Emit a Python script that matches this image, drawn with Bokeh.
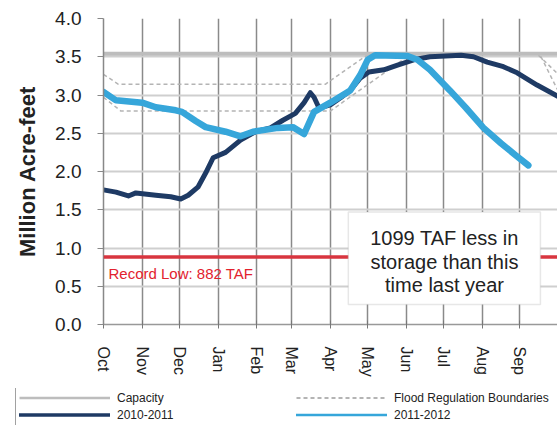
from bokeh.plotting import figure
from bokeh.layouts import column, row
from bokeh.models import (Range1d, FixedTicker, PrintfTickFormatter, Legend, LegendItem,
                          BoxAnnotation, Label, Span)
from bokeh.embed import file_html
from bokeh.resources import INLINE

FONT = "Liberation Sans"

# ---------------- data ----------------
months = ["Oct", "Nov", "Dec", "Jan", "Feb", "Mar", "Apr", "May", "Jun", "Jul", "Aug", "Sep"]
month_start_day = [0, 31, 61, 92, 123, 151, 182, 212, 243, 273, 304, 334]
y_ticks = [0.0, 0.5, 1.0, 1.5, 2.0, 2.5, 3.0, 3.5, 4.0]

capacity = 3.538          # million acre-feet
record_low = 0.882        # million acre-feet (882 TAF)
water_year_days = [0, 365]

day_2010 = [0, 10, 20, 26, 42, 54, 62, 68, 76, 82, 88, 98, 110, 122, 134, 144, 154, 161,
            166, 169, 173, 182, 190, 198, 206, 213, 225, 236, 249, 262, 287, 297, 308,
            321, 332, 348, 365]
storage_2010 = [1.76, 1.73, 1.68, 1.72, 1.69, 1.67, 1.64, 1.69, 1.80, 1.98, 2.18, 2.25,
                2.41, 2.52, 2.57, 2.67, 2.76, 2.90, 3.03, 2.97, 2.83, 2.87, 2.96, 3.06,
                3.22, 3.30, 3.33, 3.39, 3.46, 3.50, 3.52, 3.50, 3.43, 3.37, 3.29, 3.13,
                2.98]

day_2011 = [0, 10, 31, 42, 58, 63, 74, 82, 98, 110, 120, 140, 152, 161, 169, 182, 198,
            206, 212, 218, 244, 252, 262, 278, 291, 305, 319, 331, 341]
storage_2011 = [3.04, 2.93, 2.90, 2.84, 2.80, 2.78, 2.66, 2.58, 2.52, 2.46, 2.52, 2.57,
                2.58, 2.49, 2.78, 2.90, 3.06, 3.26, 3.46, 3.52, 3.51, 3.46, 3.33, 3.06,
                2.83, 2.57, 2.37, 2.21, 2.08]

flood_upper_day = [0, 12, 178, 213, 348, 365]
flood_upper = [3.27, 3.14, 3.14, 3.538, 3.538, 3.27]
flood_lower_day = [0, 14, 182, 247, 350, 365]
flood_lower = [2.97, 2.79, 2.79, 3.538, 3.538, 3.05]

series_labels = ["Capacity", "Flood Regulation Boundaries", "2010-2011", "2011-2012"]

STYLE = {
    "Capacity": dict(line_color="#bdbdbd", line_width=4),
    "Flood Regulation Boundaries": dict(line_color="#b4b4b4", line_width=1.5, line_dash="4 3"),
    "2010-2011": dict(line_color="#1e3a64", line_width=5, line_join="round", line_cap="round"),
    "2011-2012": dict(line_color="#36a6da", line_width=6.5, line_join="round", line_cap="round"),
}
LEGEND_WIDTH = {"Capacity": 2.5, "Flood Regulation Boundaries": 1.8,
                "2010-2011": 3.5, "2011-2012": 2.5}

# ---------------- main figure ----------------
p = figure(width=557, height=388, output_backend="svg", toolbar_location=None,
           x_range=Range1d(0, 364.4), y_range=Range1d(0, 4),
           min_border_left=103, min_border_right=0, min_border_top=18,
           min_border_bottom=64)
p.outline_line_color = None
p.background_fill_color = "white"
p.border_fill_color = "white"

p.xgrid.grid_line_color = "#8a8a8a"
p.xgrid.grid_line_width = 1.5
p.ygrid.grid_line_color = "#cfcfcf"
p.ygrid.grid_line_width = 2

p.xaxis.ticker = FixedTicker(ticks=month_start_day)
p.xaxis.major_label_overrides = {d: m for d, m in zip(month_start_day, months)}
p.xaxis.major_label_orientation = "vertical"
p.xaxis.major_label_text_font = FONT
p.xaxis.major_label_text_font_size = "16px"
p.xaxis.major_label_text_color = "#222222"
p.xaxis.major_label_standoff = 18
p.xaxis.major_tick_in = 4
p.xaxis.major_tick_out = 4
p.xaxis.minor_tick_line_color = None
p.xaxis.axis_line_color = "#999999"
p.xaxis.axis_line_width = 1.5
p.xaxis.major_tick_line_color = "#777777"

p.yaxis.ticker = FixedTicker(ticks=y_ticks)
p.yaxis.formatter = PrintfTickFormatter(format="%.1f")
p.yaxis.major_label_text_font = FONT
p.yaxis.major_label_text_font_size = "19px"
p.yaxis.major_label_text_color = "#222222"
p.yaxis.major_label_standoff = 16
p.yaxis.major_tick_in = 0
p.yaxis.major_tick_out = 6
p.yaxis.minor_tick_line_color = None
p.yaxis.axis_line_color = "#888888"
p.yaxis.axis_line_width = 1.5
p.yaxis.major_tick_line_color = "#888888"
p.yaxis.axis_label = "Million Acre-feet"
p.yaxis.axis_label_text_font = FONT
p.yaxis.axis_label_text_font_style = "bold"
p.yaxis.axis_label_text_font_size = "22px"
p.yaxis.axis_label_text_color = "#222222"
p.yaxis.axis_label_standoff = 12

p.line(flood_upper_day, flood_upper, **STYLE["Flood Regulation Boundaries"])
p.line(flood_lower_day, flood_lower, **STYLE["Flood Regulation Boundaries"])
p.line(water_year_days, [capacity, capacity], **STYLE["Capacity"])
p.line(day_2010, storage_2010, **STYLE["2010-2011"])
p.line(day_2011, storage_2011, **STYLE["2011-2012"])

p.add_layout(Span(location=record_low, dimension="width", line_color="#d8353f",
                  line_width=3.5))
p.add_layout(Label(x=4, y=0.673, text="Record Low: 882 TAF", text_font=FONT,
                   text_font_size="15px", text_color="#e2222e", text_align="left",
                   text_baseline="middle"))

p.add_layout(BoxAnnotation(left=196.5, right=350.7, bottom=0.26, top=1.47,
                           fill_color="white", fill_alpha=1.0,
                           line_color="#b0b0b0", line_width=1.5))
for yy, txt in [(1.13, "1099 TAF less in"), (0.82, "storage than this"),
                (0.515, "time last year")]:
    p.add_layout(Label(x=273.7, y=yy, text=txt, text_font=FONT, text_font_size="20px",
                       text_color="#222222", text_align="center",
                       text_baseline="middle"))

# ---------------- legend strip ----------------
q = figure(width=557, height=37, output_backend="svg", toolbar_location=None,
           x_range=Range1d(0, 1), y_range=Range1d(0, 1),
           x_axis_location=None, y_axis_location=None,
           min_border_left=0, min_border_right=0, min_border_top=0, min_border_bottom=0)
q.outline_line_color = None
q.xgrid.visible = False
q.ygrid.visible = False
q.background_fill_color = "white"
q.border_fill_color = "white"

items = []
for lab in series_labels:
    st = dict(STYLE[lab])
    st["line_width"] = LEGEND_WIDTH[lab]
    r = q.line([5, 6], [5, 6], **st)
    items.append(LegendItem(label=lab, renderers=[r]))

legend = Legend(items=items, location=(15, -1), orientation="horizontal", ncols=2,
                glyph_width=91, glyph_height=15, label_height=15, label_width=177,
                label_standoff=7, spacing=2, padding=3, margin=0,
                label_text_font=FONT, label_text_font_size="12px",
                label_text_color="#222222",
                border_line_color="#444444", border_line_width=1,
                background_fill_color="white", background_fill_alpha=1.0)
q.add_layout(legend)

layout = column(p, row(q, spacing=0), spacing=0)
open("out.html", "w").write(file_html(layout, INLINE))
